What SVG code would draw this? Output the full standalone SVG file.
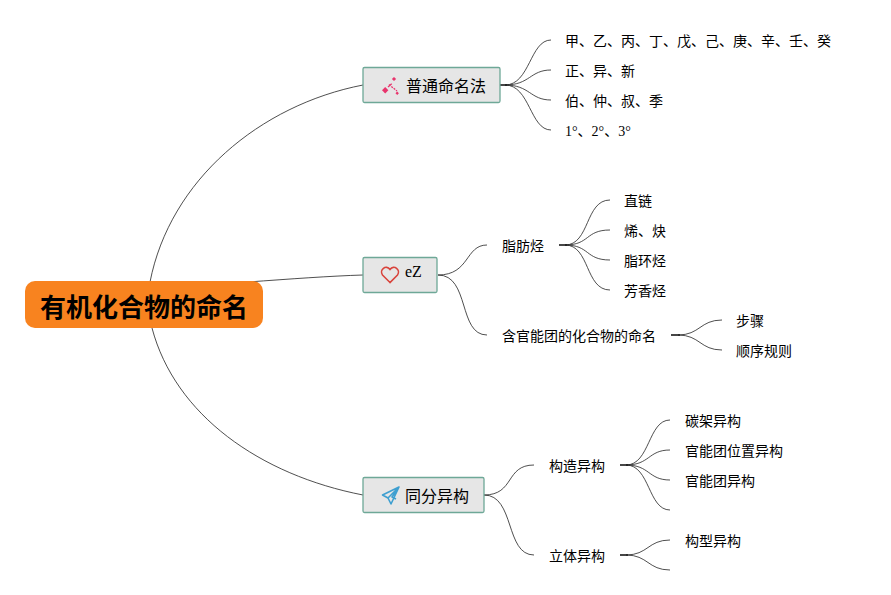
<svg xmlns="http://www.w3.org/2000/svg" width="891" height="595" viewBox="0 0 891 595">
<style>
text{font-family:"Liberation Serif","Noto Sans CJK SC",sans-serif;fill:#000}
.cjk{font-family:"Noto Sans CJK SC","Liberation Sans",sans-serif}
.l{font-size:14px}
.m{font-size:16px}
.b{fill:#e6e6e6;stroke:#6ea897;stroke-width:1.3}
.c{fill:none;stroke:#222;stroke-width:.8}
.s{fill:none;stroke:#333;stroke-width:1.8}
</style>
<rect width="891" height="595" fill="#fff"/>
<g id="connectors">
<path class="c" d="M150 282C170 180 260 105 363 85"/>
<path class="c" d="M248 282C290 279 330 276 363 275"/>
<path class="c" d="M152 328C175 415 260 475 363 495"/>
<path class="s" d="M500 85H507"/>
<path class="c" d="M505 85C530 85 530 40 551 40"/>
<path class="c" d="M505 85C530 85 530 70 551 70"/>
<path class="c" d="M505 85C530 85 530 100 551 100"/>
<path class="c" d="M505 85C530 85 530 130 551 130"/>
<path class="c" d="M438 275C470 275 465 245 487 245"/>
<path class="c" d="M438 275C470 275 458 335 487 335"/>
<path class="s" d="M559 245H567"/>
<path class="c" d="M565 245C590 245 585 200 610 200"/>
<path class="c" d="M565 245C590 245 585 230 610 230"/>
<path class="c" d="M565 245C590 245 585 260 610 260"/>
<path class="c" d="M565 245C590 245 585 290 610 290"/>
<path class="s" d="M671 335H680"/>
<path class="c" d="M678 335C700 335 700 320 722 320"/>
<path class="c" d="M678 335C700 335 700 350 722 350"/>
<path class="c" d="M484 495C515 495 505 465 534 465"/>
<path class="c" d="M484 495C515 495 505 555 534 555"/>
<path class="s" d="M620 465H628"/>
<path class="c" d="M626 465C650 465 648 420 670 420"/>
<path class="c" d="M626 465C650 465 648 450 670 450"/>
<path class="c" d="M626 465C650 465 648 480 670 480"/>
<path class="c" d="M626 465C650 465 648 510 670 510"/>
<path class="s" d="M620 555H628"/>
<path class="c" d="M626 555C648 555 648 540 670 540"/>
<path class="c" d="M626 555C648 555 648 570 670 570"/>
</g>
<g id="root"><rect x="25" y="281" width="238" height="47" rx="10" fill="#f8831f"/><text x="144" y="317" text-anchor="middle" class="cjk" font-size="26" font-weight="700">有机化合物的命名</text></g>
<g id="n1"><rect class="b" x="363" y="67.500" width="137" height="35" rx="1.500"/>
<g fill="#e8356d"><rect x="383" y="88" width="4.500" height="4.500" transform="rotate(45 385.200 90.200)"/><rect x="392.500" y="77.500" width="3" height="3" transform="rotate(45 394 79)"/><rect x="396" y="92" width="2.400" height="2.400" transform="rotate(45 397.200 93.200)"/></g><path d="M389 84.500L397 91M388 87L392.500 83" stroke="#e8356d" stroke-width="1.300" stroke-dasharray="2 1" fill="none"/>
<text x="406" y="92" class="cjk m">普通命名法</text></g>
<g id="n2"><rect class="b" x="363" y="257.500" width="74" height="35" rx="1.500"/>
<path d="M390 282.500L382.500 275C379 270 386 264 390 269.500C394 264 401 270 397.500 275Z" fill="none" stroke="#d9443c" stroke-width="1.600"/>
<text x="405" y="277" class="m">eZ</text></g>
<g id="n3"><rect class="b" x="363" y="477.500" width="121" height="35" rx="1.500"/>
<path d="M399 487L382.500 495L388 498L391 504L399 487ZM399 487L388 498M399 487L392 497L396 499" fill="none" stroke="#3e9fd0" stroke-width="1.600" stroke-linejoin="round"/>
<text x="405" y="502" class="cjk m">同分异构</text></g>
<g id="t1"><text x="565" y="46" class="cjk l">甲、乙、丙、丁、戊、己、庚、辛、壬、癸</text></g>
<g id="t2"><text x="565" y="76" class="cjk l">正、异、新</text></g>
<g id="t3"><text x="565" y="106" class="cjk l">伯、仲、叔、季</text></g>
<g id="t4"><text x="565" y="136" class="l">1°、2°、3°</text></g>
<g id="t5"><text x="502" y="251" class="cjk l">脂肪烃</text></g>
<g id="t6"><text x="502" y="341" class="cjk l">含官能团的化合物的命名</text></g>
<g id="t7"><text x="624" y="206" class="cjk l">直链</text></g>
<g id="t8"><text x="624" y="236" class="cjk l">烯、炔</text></g>
<g id="t9"><text x="624" y="266" class="cjk l">脂环烃</text></g>
<g id="t10"><text x="624" y="296" class="cjk l">芳香烃</text></g>
<g id="t11"><text x="736" y="326" class="cjk l">步骤</text></g>
<g id="t12"><text x="736" y="356" class="cjk l">顺序规则</text></g>
<g id="t13"><text x="549" y="471" class="cjk l">构造异构</text></g>
<g id="t14"><text x="549" y="561" class="cjk l">立体异构</text></g>
<g id="t15"><text x="685" y="426" class="cjk l">碳架异构</text></g>
<g id="t16"><text x="685" y="456" class="cjk l">官能团位置异构</text></g>
<g id="t17"><text x="685" y="486" class="cjk l">官能团异构</text></g>
<g id="t18"><text x="685" y="546" class="cjk l">构型异构</text></g>
</svg>
